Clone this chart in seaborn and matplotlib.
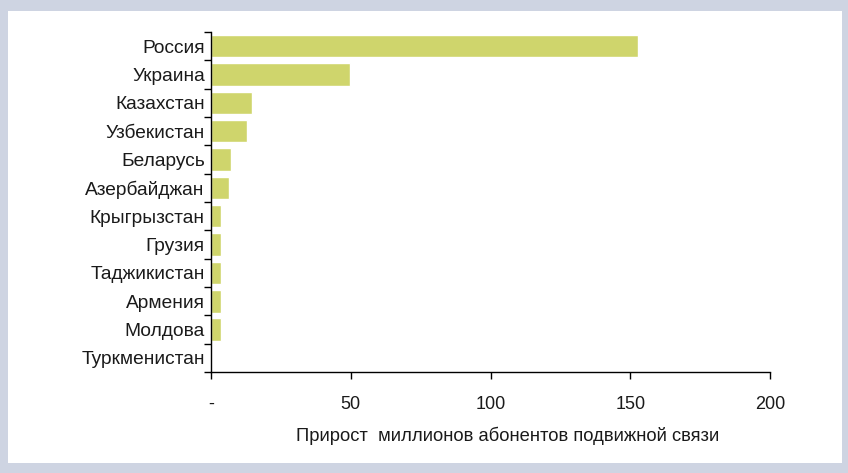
import matplotlib
matplotlib.use("Agg")
import matplotlib.pyplot as plt
import seaborn as sns
import pandas as pd
import numpy as np
from matplotlib.patches import Rectangle

countries = ["Россия", "Украина", "Казахстан", "Узбекистан", "Беларусь", "Азербайджан",
             "Крыгрызстан", "Грузия", "Таджикистан", "Армения", "Молдова", "Туркменистан"]
growth = [152.8, 49.7, 14.6, 12.8, 7.2, 6.4, 3.5, 3.4, 3.4, 3.4, 3.4, 0.0]
xticks = [0, 50, 100, 150, 200]
xticklabels = ["-", "50", "100", "150", "200"]
xlabel = "Прирост  миллионов абонентов подвижной связи"

sns.set_style("white")
plt.rcParams['font.family'] = ['Liberation Sans', 'DejaVu Sans']

fig = plt.figure(figsize=(8.48, 4.73), dpi=100)
fig.patch.set_facecolor("#CED4E2")
bg = fig.add_axes([0, 0, 1, 1], zorder=-10)
bg.set_xlim(0, 848)
bg.set_ylim(473, 0)
bg.axis("off")
bg.add_patch(Rectangle((8, 11), 842-8, 463-11, facecolor="white", edgecolor="none"))

ax = fig.add_axes([211/848, 1-372/473, (770-211)/848, (372-32)/473], zorder=1)
ax.set_facecolor("none")
df = pd.DataFrame({"country": countries, "growth": growth})
sns.barplot(data=df, y="country", x="growth", color="#CFD56C", saturation=1, width=0.8, ax=ax)

ax.set_xlim(0, 200)
ax.set_ylim(len(countries)-0.5, -0.5)
ax.set_xticks(xticks)
ax.set_xticklabels(xticklabels, fontsize=13, color="#1a1a1a")
ax.set_yticks(range(len(countries)))
ax.set_yticklabels(countries, fontsize=13.8, color="#1a1a1a")
ax.set_yticks(np.arange(-0.5, len(countries), 1), minor=True)
ax.tick_params(axis="y", which="major", length=0, pad=4.5)
ax.tick_params(axis="y", which="minor", length=5, width=1, color="black", direction="out", left=True)
ax.tick_params(axis="x", which="major", length=5, width=1, color="black", direction="out", bottom=True, pad=12)
ax.set_xlabel(xlabel, fontsize=13.2, labelpad=10, color="#1a1a1a")
ax.xaxis.label.set_x(0.53)
ax.set_ylabel("")
for s in ["top", "right"]:
    ax.spines[s].set_visible(False)
for s in ["left", "bottom"]:
    ax.spines[s].set_color("black")
    ax.spines[s].set_linewidth(1)

fig.savefig("out.png", dpi=100, facecolor=fig.get_facecolor())
